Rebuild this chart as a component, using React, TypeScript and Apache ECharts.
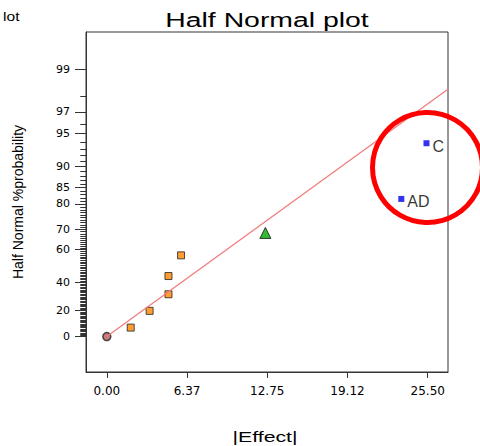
import React, { useEffect, useRef } from "react";
import * as echarts from "echarts";

// ---- data ----
const xTickValues = [0, 6.375, 12.75, 19.125, 25.5];
const xTickLabels = ["0.00", "6.37", "12.75", "19.12", "25.50"];
const yTickPct = [0, 20, 40, 60, 70, 80, 85, 90, 95, 97, 99];

const originEffect = [0];
const originPct = [0];
const orangeEffect = [1.9, 3.4, 4.9, 4.9, 5.9];
const orangePct = [6.9, 19.6, 31.7, 44.1, 56.7];
const greenEffect = [12.6];
const greenPct = [68.3];
const blueNames = ["C", "AD"];
const blueEffect = [25.4, 23.4];
const bluePct = [93.8, 81.6];
const fitEffect = [0, 27.1];
const fitPct = [0, 98.3];

// inverse standard normal CDF (Acklam) -> half-normal probability scale
function invNorm(p: number): number {
  const a = [-39.69683028665376, 220.9460984245205, -275.9285104469687, 138.357751867269, -30.66479806614716, 2.506628277459239];
  const b = [-54.47609879822406, 161.5858368580409, -155.6989798598866, 66.80131188771972, -13.28068155211918];
  const c = [-0.007784894002430293, -0.3223964580411365, -2.400758277161838, -2.549732539343734, 4.374664141464968, 2.938163982698783];
  const d = [0.007784695709041462, 0.3224671290700398, 2.445134137142996, 3.754408661907416];
  const pl = 0.02425;
  if (p <= 0) return -Infinity;
  if (p >= 1) return Infinity;
  let q: number, r: number;
  if (p < pl) {
    q = Math.sqrt(-2 * Math.log(p));
    return (((((c[0] * q + c[1]) * q + c[2]) * q + c[3]) * q + c[4]) * q + c[5]) / ((((d[0] * q + d[1]) * q + d[2]) * q + d[3]) * q + 1);
  }
  if (p <= 1 - pl) {
    q = p - 0.5;
    r = q * q;
    return ((((((a[0] * r + a[1]) * r + a[2]) * r + a[3]) * r + a[4]) * r + a[5]) * q) / (((((b[0] * r + b[1]) * r + b[2]) * r + b[3]) * r + b[4]) * r + 1);
  }
  q = Math.sqrt(-2 * Math.log(1 - p));
  return -(((((c[0] * q + c[1]) * q + c[2]) * q + c[3]) * q + c[4]) * q + c[5]) / ((((d[0] * q + d[1]) * q + d[2]) * q + d[3]) * q + 1);
}
const hz = (pct: number) => (pct === 0 ? 0 : invNorm(0.5 + pct / 200));

const pts = (xs: number[], ps: number[]) => xs.map((x, i) => [x, hz(ps[i])]);

export default function App() {
  const ref = useRef<HTMLDivElement>(null);
  useEffect(() => {
    if (!ref.current) return;
    const chart = echarts.init(ref.current, null, { renderer: "svg" });
    const majorZ = yTickPct.map(hz);
    const minorPct: number[] = [];
    for (let p = 1; p <= 99; p++) if (yTickPct.indexOf(p) < 0) minorPct.push(p);
    const xMin = -1.653;
    const xMax = 27.11;
    const yMin = -0.342;
    const yMax = 2.94;

    const elements: any[] = [
      {
        type: "text",
        x: 267,
        y: 20,
        scaleX: 1.42,
        style: {
          text: "Half Normal plot",
          font: "20px 'Liberation Sans'",
          fill: "#000",
          align: "center",
          verticalAlign: "middle",
        },
      },
      {
        type: "text",
        x: 265,
        y: 437,
        scaleX: 1.42,
        style: {
          text: "|Effect|",
          font: "15px 'Liberation Sans'",
          fill: "#000",
          align: "center",
          verticalAlign: "middle",
        },
      },
      {
        type: "text",
        x: 3,
        y: 17,
        scaleX: 1.3,
        style: { text: "lot", font: "12px 'Liberation Sans'", fill: "#000", align: "left", verticalAlign: "middle" },
      },
      {
        type: "circle",
        shape: { cx: 427.5, cy: 167.5, r: 55 },
        style: { fill: "none", stroke: "#ff0000", lineWidth: 5 },
        z: 100,
      },
    ];

    const option: any = {
      animation: false,
      backgroundColor: "#fff",
      grid: {
        left: 86,
        right: 32,
        top: 32,
        bottom: 74,
        show: true,
        borderColor: "#333",
        borderWidth: 1,
        backgroundColor: "transparent",
      },
      xAxis: {
        type: "value",
        min: xMin,
        max: xMax,
        axisLine: { show: true, onZero: false, lineStyle: { color: "#333", width: 1 } },
        axisTick: { show: true, length: 6, customValues: xTickValues, lineStyle: { color: "#333" } },
        axisLabel: {
          fontFamily: "DejaVu Sans",
          fontSize: 12,
          color: "#000",
          margin: 13,
          customValues: xTickValues,
          formatter: (v: number) => {
            const i = xTickValues.findIndex((t) => Math.abs(t - v) < 1e-6);
            return i >= 0 ? xTickLabels[i] : "";
          },
        },
        splitLine: { show: false },
      },
      yAxis: {
        type: "value",
        position: "left",
        min: yMin,
        max: yMax,
        name: "Half Normal %probability",
        nameLocation: "middle",
        nameGap: 61,
        nameTextStyle: { fontFamily: "Liberation Sans", fontSize: 14, color: "#000" },
        axisLine: { show: true, onZero: false, lineStyle: { color: "#333", width: 1 } },
        axisTick: { show: true, length: 11, customValues: majorZ, lineStyle: { color: "#333" } },
        axisLabel: {
          fontFamily: "DejaVu Sans",
          fontSize: 11,
          color: "#000",
          margin: 16,
          customValues: majorZ,
          formatter: (v: number) => {
            const i = majorZ.findIndex((t) => Math.abs(t - v) < 1e-6);
            return i >= 0 ? String(yTickPct[i]) : "";
          },
        },
        splitLine: { show: false },
      },
      series: [
        {
          type: "line",
          data: pts(fitEffect, fitPct),
          symbol: "none",
          lineStyle: { color: "#f27c7c", width: 1.3 },
          silent: true,
        },
        {
          type: "scatter",
          data: pts(originEffect, originPct),
          symbol: "circle",
          symbolSize: 8,
          itemStyle: { color: "#b85a5a", borderColor: "#222", borderWidth: 1.5 },
        },
        {
          type: "scatter",
          data: pts(orangeEffect, orangePct),
          symbol: "rect",
          symbolSize: 7,
          itemStyle: { color: "#ff8400", borderColor: "#222", borderWidth: 1 },
        },
        {
          type: "scatter",
          data: pts(greenEffect, greenPct),
          symbol: "triangle",
          symbolSize: 11,
          itemStyle: { color: "#00aa00", borderColor: "#111", borderWidth: 1 },
        },
        {
          type: "scatter",
          data: blueEffect.map((x, i) => ({ name: blueNames[i], value: [x, hz(bluePct[i])] })),
          symbol: "rect",
          symbolSize: 6,
          itemStyle: { color: "#0000ee" },
          label: {
            show: true,
            position: "right",
            distance: 3,
            offset: [0, 3],
            formatter: (p: any) => p.name,
            fontFamily: "Liberation Sans",
            fontSize: 16,
            color: "#000",
          },
        },
      ],
    };

    chart.setOption(option);
    // minor 1% ticks as one path, positioned through the y axis scale
    const comb: number[][] = [];
    minorPct.forEach((p) => {
      const c: any = chart.convertToPixel({ xAxisIndex: 0, yAxisIndex: 0 }, [xMin, hz(p)]);
      if (!c || !isFinite(c[0]) || !isFinite(c[1])) return;
      const y = Math.round(c[1]) + 0.5;
      const x = Math.round(c[0]) + 0.5;
      comb.push([x, y], [x - 6, y], [x, y]);
    });
    if (comb.length) {
      elements.push({
        type: "polyline",
        shape: { points: comb },
        style: { stroke: "#333", lineWidth: 1, fill: "none" },
        z: 50,
      });
    }
    option.graphic = { elements };
    chart.setOption(option, true);

    return () => chart.dispose();
  }, []);
  return <div ref={ref} style={{ width: 480, height: 446, position: "absolute", left: 0, top: 0 }} />;
}
